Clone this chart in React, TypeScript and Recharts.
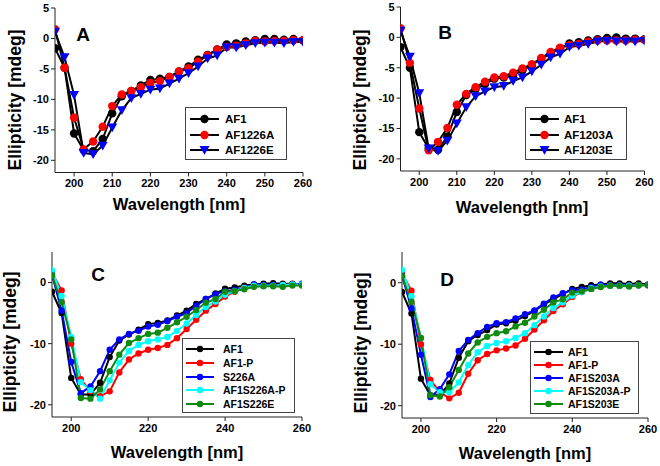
import React from 'react';
import { LineChart, Line, XAxis, YAxis } from 'recharts';

// wavelength grid (nm)
const wavelengths = [195, 197.5, 200, 202.5, 205, 207.5, 210, 212.5, 215, 217.5, 220, 222.5, 225, 227.5, 230, 232.5, 235, 237.5, 240, 242.5, 245, 247.5, 250, 252.5, 255, 257.5, 260];

// Panel A
const aAF1 = [-1.6, -4.8, -15.6, -18.3, -18.5, -16.5, -12.3, -9.5, -8.6, -7.7, -6.8, -6.6, -6.3, -5.4, -4.6, -3.5, -2.7, -1.8, -1.0, -0.8, -0.5, -0.3, -0.1, -0.1, -0.2, -0.1, -0.3];
const aAF1226A = [1.5, -4.8, -13.0, -18.2, -16.9, -14.5, -11.1, -9.2, -8.6, -8.0, -7.3, -7.0, -6.3, -5.4, -4.9, -3.8, -2.8, -1.8, -1.4, -1.2, -0.8, -0.4, -0.5, -0.4, -0.4, -0.3, -0.3];
const aAF1226E = [1.1, -3.1, -9.3, -18.8, -19.0, -17.6, -14.6, -11.8, -9.8, -9.1, -8.4, -8.2, -7.4, -6.6, -5.7, -4.6, -3.3, -2.8, -1.5, -1.5, -1.1, -0.8, -0.7, -0.7, -0.8, -0.6, -0.6];

// Panel B
const bAF1 = [-1.6, -5.0, -15.6, -18.3, -18.5, -16.3, -12.3, -9.5, -8.5, -7.7, -6.8, -6.6, -6.3, -5.4, -4.6, -3.5, -2.7, -1.8, -1.0, -0.8, -0.5, -0.3, -0.1, 0.0, -0.2, -0.2, -0.3];
const bAF1203A = [1.5, -4.2, -11.7, -18.6, -17.2, -14.9, -11.1, -9.3, -8.2, -7.3, -6.6, -6.4, -5.8, -5.1, -4.4, -3.4, -2.4, -1.7, -1.3, -1.1, -0.7, -0.5, -0.5, -0.5, -0.5, -0.4, -0.4];
const bAF1203E = [1.1, -3.2, -9.2, -18.3, -18.7, -17.0, -14.2, -11.5, -9.7, -8.9, -8.2, -8.0, -7.2, -6.6, -5.6, -4.5, -3.3, -2.7, -1.6, -1.4, -1.1, -0.7, -0.6, -0.7, -0.7, -0.7, -0.6];

// Panel C
const cAF1 = [-1.5, -5.0, -15.6, -18.3, -18.3, -16.4, -12.2, -9.5, -8.5, -7.7, -6.8, -6.6, -6.2, -5.4, -4.6, -3.5, -2.7, -1.8, -1.0, -0.8, -0.5, -0.3, -0.2, -0.1, -0.2, -0.2, -0.3];
const cAF1P = [1.6, -1.3, -10.0, -15.8, -17.8, -18.6, -17.8, -14.7, -12.6, -11.6, -11.0, -10.7, -10.2, -9.1, -7.6, -6.1, -4.6, -3.5, -2.3, -1.5, -0.9, -0.5, -0.5, -0.5, -0.4, -0.3, -0.3];
const cS226A = [1.3, -4.6, -13.0, -18.1, -17.0, -14.5, -11.0, -9.3, -8.4, -7.9, -7.2, -6.9, -6.3, -5.6, -5.0, -3.8, -2.7, -1.9, -1.4, -1.2, -0.9, -0.3, -0.4, -0.4, -0.4, -0.3, -0.2];
const cS226AP = [2.0, -2.2, -8.9, -16.3, -17.6, -19.0, -16.0, -13.1, -11.2, -10.2, -9.6, -9.3, -8.9, -7.9, -6.7, -5.3, -4.0, -3.1, -2.0, -1.4, -0.9, -0.5, -0.5, -0.5, -0.4, -0.3, -0.3];
const cS226E = [1.2, -3.2, -9.3, -18.9, -19.0, -17.5, -14.5, -11.8, -9.9, -9.1, -8.4, -8.2, -7.4, -6.5, -5.6, -4.5, -3.3, -2.7, -1.5, -1.4, -1.1, -0.7, -0.6, -0.6, -0.7, -0.5, -0.5];

// Panel D
const dAF1 = [-1.5, -5.0, -15.6, -18.3, -18.3, -16.4, -12.2, -9.5, -8.5, -7.7, -6.8, -6.6, -6.2, -5.4, -4.6, -3.5, -2.7, -1.8, -1.0, -0.7, -0.4, -0.3, -0.1, -0.1, -0.2, -0.1, -0.3];
const dAF1P = [1.5, -1.3, -10.0, -15.8, -17.8, -18.8, -17.9, -14.8, -12.6, -11.6, -11.0, -10.7, -10.2, -9.1, -7.6, -6.1, -4.6, -3.5, -2.3, -1.5, -1.0, -0.6, -0.5, -0.5, -0.5, -0.4, -0.4];
const dS203A = [1.2, -4.2, -11.7, -18.6, -17.3, -14.9, -11.1, -9.3, -8.2, -7.2, -6.6, -6.4, -5.8, -5.1, -4.5, -3.4, -2.4, -1.7, -1.2, -1.1, -0.7, -0.3, -0.4, -0.4, -0.4, -0.4, -0.3];
const dS203AP = [2.1, -2.2, -9.0, -16.5, -17.8, -17.8, -16.2, -13.4, -11.3, -10.3, -9.8, -9.5, -9.0, -8.2, -6.9, -5.5, -4.1, -3.2, -2.1, -1.5, -0.9, -0.6, -0.5, -0.5, -0.5, -0.4, -0.4];
const dS203E = [1.1, -3.1, -9.0, -18.3, -18.5, -17.0, -14.2, -11.5, -9.7, -8.8, -8.2, -7.9, -7.1, -6.5, -5.5, -4.4, -3.2, -2.7, -1.6, -1.4, -1.0, -0.7, -0.5, -0.5, -0.6, -0.4, -0.4];

const ticksAB_y = [5, 0, -5, -10, -15, -20];
const ticksAB_x = [200, 210, 220, 230, 240, 250, 260];
const ticksCD_y = [0, -10, -20];
const ticksCD_x = [200, 220, 240, 260];

const FONT = 'Arial, "Liberation Sans", sans-serif';

type Series = { name: string; values: number[]; color: string; line: string; shape: 'circle' | 'triangle'; r: number };

const Tri = (props: any) => {
  const { cx, cy, fill, r } = props;
  if (cx == null || cy == null) return null;
  const w = r + 0.8;
  return <path d={`M${cx - w},${cy - w * 0.8} L${cx + w},${cy - w * 0.8} L${cx},${cy + w * 0.95} Z`} fill={fill} />;
};

function Marker({ s, cx, cy }: { s: Series; cx: number; cy: number }) {
  if (s.shape === 'triangle') return <Tri cx={cx} cy={cy} fill={s.color} r={s.r} />;
  return <circle cx={cx} cy={cy} r={s.r} fill={s.color} />;
}

function LegendBox({ series, box, lineX, lineW, textX, rowH, firstRow, fontSize }: any) {
  return (
    <div style={{ position: 'absolute', left: box[0], top: box[1], width: box[2], height: box[3], border: '1px solid #444', background: '#fff', boxSizing: 'border-box' }}>
      {series.map((s: Series, i: number) => (
        <div key={s.name} style={{ position: 'absolute', left: 0, top: firstRow + i * rowH - 7, height: 14, width: '100%' }}>
          <svg width={lineX + lineW + 2} height={14} style={{ position: 'absolute', left: 0, top: 0 }}>
            <line x1={lineX} x2={lineX + lineW} y1={7} y2={7} stroke={s.line} strokeWidth={2} />
            <Marker s={s} cx={lineX + lineW / 2} cy={7} />
          </svg>
          <span style={{ position: 'absolute', left: textX, top: 0, lineHeight: '14px', fontFamily: FONT, fontWeight: 'bold', fontSize, color: '#000', whiteSpace: 'nowrap' }}>{s.name}</span>
        </div>
      ))}
    </div>
  );
}

function Panel({ cfg }: { cfg: any }) {
  const rows = wavelengths.map((w, i) => {
    const row: any = { w };
    cfg.series.forEach((s: Series, k: number) => { row['s' + k] = s.values[i]; });
    return row;
  });
  const tick = { fontSize: 11, fontWeight: 'bold', fill: '#000', fontFamily: FONT };
  return (
    <div style={{ position: 'absolute', left: cfg.x, top: cfg.y, width: 330, height: 230 }}>
      <LineChart width={330} height={230} data={rows} margin={{ top: cfg.top, right: cfg.right, left: 0, bottom: 0 }}>
        <XAxis dataKey="w" type="number" domain={[195, 260]} ticks={cfg.xTicks} interval={0} height={cfg.xH} tickSize={4} tickMargin={3} stroke="#222" tick={tick} allowDataOverflow />
        <XAxis xAxisId="top" orientation="top" dataKey="w" type="number" domain={[195, 260]} height={0} tick={false} tickLine={false} stroke="#777" />
        <YAxis type="number" domain={[-22, 5]} ticks={cfg.yTicks} interval={0} width={cfg.yW} tickSize={4} tickMargin={2} stroke="#222" tick={tick} allowDataOverflow />
        <YAxis yAxisId="right" orientation="right" type="number" domain={[-22, 5]} width={0} tick={false} tickLine={false} stroke="#777" />
        {cfg.series.map((s: Series, k: number) => (
          <Line
            key={s.name}
            dataKey={'s' + k}
            stroke={s.line}
            strokeWidth={2}
            isAnimationActive={false}
            dot={s.shape === 'triangle' ? (p: any) => <Tri key={p.index} cx={p.cx} cy={p.cy} fill={s.color} r={s.r} /> : { r: s.r, fill: s.color, stroke: s.color, strokeWidth: 0 }}
            activeDot={false}
          />
        ))}
      </LineChart>
      <div style={{ position: 'absolute', left: cfg.letter[0], top: cfg.letter[1], transform: 'translate(-50%,-50%)', fontFamily: FONT, fontWeight: 'bold', fontSize: 19 }}>{cfg.name}</div>
      <div style={{ position: 'absolute', left: cfg.xLabel[0], top: cfg.xLabel[1], transform: 'translate(-50%,-50%)', fontFamily: FONT, fontWeight: 'bold', fontSize: 16.5, whiteSpace: 'nowrap' }}>Wavelength [nm]</div>
      <div style={{ position: 'absolute', left: cfg.yLabel[0], top: cfg.yLabel[1], transform: 'translate(-50%,-50%) rotate(-90deg)', fontFamily: FONT, fontWeight: 'bold', fontSize: 17.5, whiteSpace: 'nowrap' }}>Ellipticity [mdeg]</div>
      <LegendBox {...cfg.legend} series={cfg.series} />
    </div>
  );
}

const big = 4.2;
const small = 3.2;

const panels = [
  {
    name: 'A', x: 0, y: 0, top: 8, right: 27, yW: 55, xH: 57.5, xTicks: ticksAB_x, yTicks: ticksAB_y,
    letter: [83, 35], xLabel: [179, 204], yLabel: [15, 100],
    series: [
      { name: 'AF1', values: aAF1, color: '#000', line: '#000', shape: 'circle', r: big },
      { name: 'AF1226A', values: aAF1226A, color: '#ff0000', line: '#000', shape: 'circle', r: big },
      { name: 'AF1226E', values: aAF1226E, color: '#0000ff', line: '#000', shape: 'triangle', r: big },
    ],
    legend: { box: [185, 107, 102, 53], lineX: 4, lineW: 29, textX: 39, rowH: 15.5, firstRow: 11, fontSize: 11.5 },
  },
  {
    name: 'B', x: 330, y: 0, top: 7, right: 15.5, yW: 70.5, xH: 59, xTicks: ticksAB_x, yTicks: ticksAB_y,
    letter: [115, 33], xLabel: [192, 207], yLabel: [30, 100],
    series: [
      { name: 'AF1', values: bAF1, color: '#000', line: '#000', shape: 'circle', r: big },
      { name: 'AF1203A', values: bAF1203A, color: '#ff0000', line: '#000', shape: 'circle', r: big },
      { name: 'AF1203E', values: bAF1203E, color: '#0000ff', line: '#000', shape: 'triangle', r: big },
    ],
    legend: { box: [195, 107, 102, 53], lineX: 4, lineW: 29, textX: 38, rowH: 15.5, firstRow: 11, fontSize: 11.5 },
  },
  {
    name: 'C', x: 0, y: 240, top: 12, right: 28, yW: 52, xH: 53, xTicks: ticksCD_x, yTicks: ticksCD_y,
    letter: [98, 35], xLabel: [177, 212], yLabel: [10, 102],
    series: [
      { name: 'AF1', values: cAF1, color: '#000', line: '#000', shape: 'circle', r: small },
      { name: 'AF1-P', values: cAF1P, color: '#ff0000', line: '#ff0000', shape: 'circle', r: small },
      { name: 'S226A', values: cS226A, color: '#0000ff', line: '#0000ff', shape: 'circle', r: small },
      { name: 'AF1S226A-P', values: cS226AP, color: '#00ffff', line: '#00ffff', shape: 'circle', r: small },
      { name: 'AF1S226E', values: cS226E, color: '#108a10', line: '#108a10', shape: 'circle', r: small },
    ],
    legend: { box: [182, 98, 113, 75], lineX: 3, lineW: 28, textX: 40, rowH: 13.8, firstRow: 10, fontSize: 10.5 },
  },
  {
    name: 'D', x: 330, y: 240, top: 12, right: 12, yW: 72, xH: 52, xTicks: ticksCD_x, yTicks: ticksCD_y,
    letter: [117, 40], xLabel: [195, 213], yLabel: [31, 103],
    series: [
      { name: 'AF1', values: dAF1, color: '#000', line: '#000', shape: 'circle', r: small },
      { name: 'AF1-P', values: dAF1P, color: '#ff0000', line: '#ff0000', shape: 'circle', r: small },
      { name: 'AF1S203A', values: dS203A, color: '#0000ff', line: '#0000ff', shape: 'circle', r: small },
      { name: 'AF1S203A-P', values: dS203AP, color: '#00ffff', line: '#00ffff', shape: 'circle', r: small },
      { name: 'AF1S203E', values: dS203E, color: '#108a10', line: '#108a10', shape: 'circle', r: small },
    ],
    legend: { box: [200, 101, 109, 73], lineX: 3, lineW: 29, textX: 37, rowH: 13, firstRow: 10, fontSize: 10.5 },
  },
];

export default function App() {
  return (
    <div style={{ position: 'absolute', left: 0, top: 0, width: 660, height: 466, background: '#fff', overflow: 'hidden' }}>
      {panels.map(p => <Panel key={p.name} cfg={p} />)}
    </div>
  );
}
